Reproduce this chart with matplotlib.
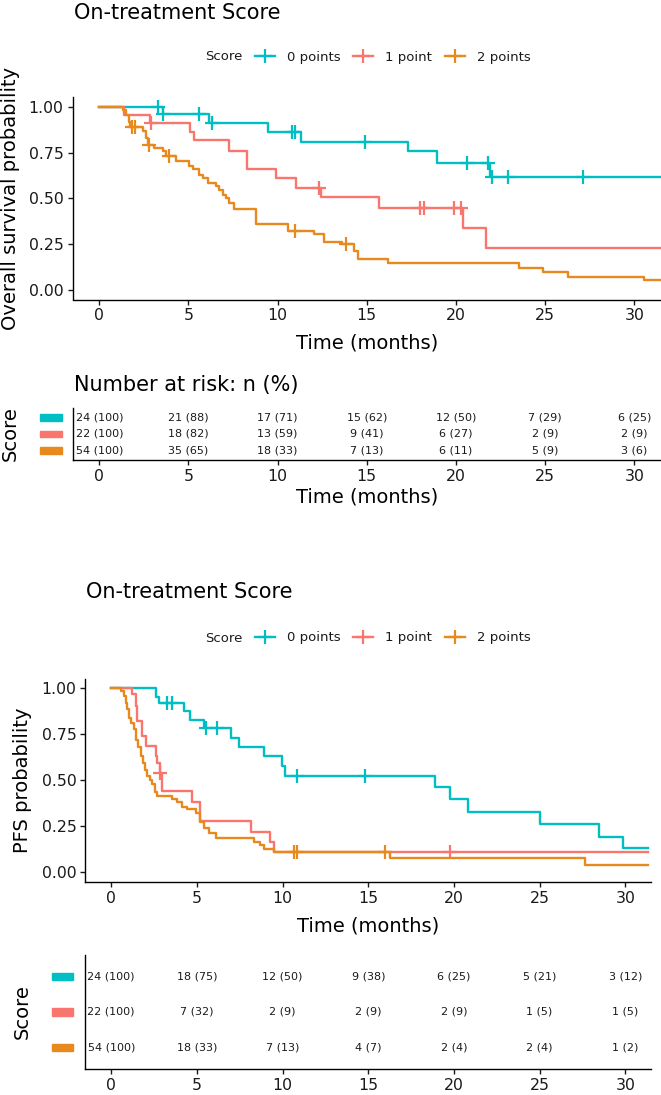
import numpy as np
import matplotlib.pyplot as plt
from matplotlib.lines import Line2D
from matplotlib.patches import Rectangle
from matplotlib.transforms import blended_transform_factory

W, H = 661, 1095

groups = ['0 points', '1 point', '2 points']
colors = ['#00BFC4', '#F8766D', '#E8891E']
risk_times = [0, 5, 10, 15, 20, 25, 30]

# ---- overall survival (top) ----
os_t = [
    [0, 3.56, 6.14, 9.45, 11.32, 17.31, 18.94, 21.93],
    [0, 1.4, 2.85, 5.1, 5.3, 7.3, 8.3, 9.92, 11.04, 12.45, 15.68, 20.4, 21.67],
    [0, 1.31, 1.5, 1.65, 1.74, 2.44, 2.62, 2.71, 3.09, 3.56, 3.74, 4.3, 5.05, 5.24,
     5.61, 5.8, 6.08, 6.55, 6.74, 6.93, 7.11, 7.3, 7.58, 8.8, 10.58, 12.07, 12.6,
     13.6, 14.3, 14.5, 16.19, 23.53, 24.86, 26.3, 30.56],
]
os_s = [
    [1.0, 0.958, 0.912, 0.861, 0.81, 0.756, 0.696, 0.619],
    [1.0, 0.955, 0.909, 0.864, 0.818, 0.76, 0.66, 0.611, 0.557, 0.508, 0.449, 0.34, 0.228],
    [1.0, 0.982, 0.955, 0.919, 0.892, 0.865, 0.829, 0.792, 0.774, 0.756, 0.734, 0.705,
     0.678, 0.66, 0.629, 0.611, 0.584, 0.566, 0.548, 0.521, 0.503, 0.476, 0.443, 0.362,
     0.325, 0.304, 0.264, 0.25, 0.214, 0.172, 0.147, 0.12, 0.102, 0.074, 0.056],
]
os_cens = [
    [3.3, 3.6, 5.6, 6.3, 10.8, 11.0, 14.88, 20.6, 21.8, 22.0, 22.9, 27.1],
    [2.9, 12.3, 18.0, 18.2, 19.9, 20.3],
    [1.85, 2.0, 2.8, 3.9, 10.95, 13.85],
]

# ---- PFS (bottom) ----
pfs_t = [
    [0, 2.59, 2.79, 4.24, 4.59, 5.41, 6.97, 7.45, 8.91, 9.98, 10.17, 18.91, 19.78,
     20.81, 25.03, 28.49, 29.85],
    [0, 1.23, 1.43, 1.52, 1.81, 2.01, 2.59, 2.69, 2.84, 2.98, 4.73, 5.21, 8.13, 9.25, 9.49],
    [0, 0.59, 0.75, 0.85, 0.94, 1.04, 1.17, 1.33, 1.43, 1.56, 1.72, 1.87, 1.95, 2.11,
     2.26, 2.4, 2.53, 2.69, 3.57, 3.86, 4.15, 4.44, 4.92, 5.18, 5.41, 5.7, 6.09, 8.32,
     8.71, 8.9, 9.49, 16.29, 27.65],
]
pfs_s = [
    [1.0, 0.954, 0.921, 0.875, 0.83, 0.785, 0.73, 0.681, 0.63, 0.579, 0.525, 0.463,
     0.398, 0.33, 0.262, 0.194, 0.131],
    [1.0, 0.966, 0.903, 0.821, 0.739, 0.688, 0.63, 0.594, 0.539, 0.443, 0.385, 0.281,
     0.218, 0.164, 0.109],
    [1.0, 0.985, 0.957, 0.921, 0.885, 0.839, 0.812, 0.776, 0.721, 0.681, 0.63, 0.594,
     0.557, 0.521, 0.5, 0.481, 0.439, 0.416, 0.398, 0.38, 0.358, 0.344, 0.321, 0.276,
     0.24, 0.212, 0.189, 0.167, 0.149, 0.127, 0.113, 0.08, 0.04],
]
pfs_cens = [
    [3.27, 3.56, 5.51, 6.19, 10.85, 14.83],
    [2.87, 19.78],
    [10.66, 10.86, 16.0],
]
pfs_end = 31.34

# ---- numbers at risk ----
os_n = [[24, 21, 17, 15, 12, 7, 6], [22, 18, 13, 9, 6, 2, 2], [54, 35, 18, 7, 6, 5, 3]]
os_pct = [[100, 88, 71, 62, 50, 29, 25], [100, 82, 59, 41, 27, 9, 9], [100, 65, 33, 13, 11, 9, 6]]
pfs_n = [[24, 18, 12, 9, 6, 5, 3], [22, 7, 2, 2, 2, 1, 1], [54, 18, 7, 4, 2, 2, 1]]
pfs_pct = [[100, 75, 50, 38, 25, 21, 12], [100, 32, 9, 9, 9, 5, 5], [100, 33, 13, 7, 4, 4, 2]]

fig = plt.figure(figsize=(W / 100, H / 100), dpi=100)
TXT = '#1a1a1a'
LW = 1.7


def px_axes(l, t, r, b):
    return fig.add_axes([l / W, 1 - b / H, (r - l) / W, (b - t) / H])


def style(ax):
    for s in ['top', 'right']:
        ax.spines[s].set_visible(False)
    for s in ['left', 'bottom']:
        ax.spines[s].set_linewidth(1.0)
    ax.tick_params(length=3.4, width=1.0, labelsize=11.3, pad=3, colors=TXT)
    ax.set_xlim(-1.5, 31.5)
    ax.set_xticks(risk_times)


def km(ax, ts, ss, cens, end):
    for t, s, c, col in zip(ts, ss, cens, colors):
        t = np.array(t)
        s = np.array(s)
        ax.step(np.r_[t, end], np.r_[s, s[-1]], where='post', color=col, lw=LW)
        c = np.array(c)
        cs = s[np.searchsorted(t, c, side='right') - 1]
        ax.plot(c, cs, ls='none', marker='+', ms=9.5, mew=1.6, color=col)
    ax.set_ylim(-0.05, 1.05)
    ax.set_yticks([0, 0.25, 0.5, 0.75, 1.0])
    ax.set_yticklabels(['0.00', '0.25', '0.50', '0.75', '1.00'])
    style(ax)


def table(ax, ns, pcts, rect_l, rect_w, rect_h):
    for i, (n, p, col) in enumerate(zip(ns, pcts, colors)):
        for x, a, b in zip(risk_times, n, p):
            ax.text(x, i + 1, f'{a} ({b})', ha='center', va='center', fontsize=8, color=TXT)
        tr = blended_transform_factory(ax.transAxes, ax.transData)
        ax.add_patch(Rectangle((rect_l, i + 1 - rect_h / 2), rect_w, rect_h, transform=tr,
                               color=col, clip_on=False))
    ax.set_ylim(3.6, 0.4)
    ax.set_yticks([])
    style(ax)


def legend(y):
    handles = [Line2D([], [], color=c, lw=LW, marker='+', ms=9.5, mew=1.6) for c in colors]
    fig.text(205 / W, 1 - y / H, 'Score', fontsize=9.5, va='center', ha='left', color=TXT)
    fig.legend(handles, groups, loc='center left', bbox_to_anchor=(255 / W, 1 - y / H),
               ncol=3, frameon=False, fontsize=9.5, handlelength=1.5, handletextpad=0.9,
               columnspacing=1.0, borderpad=0, borderaxespad=0, labelcolor=TXT)


# ---------- top block ----------
fig.text(74 / W, 1 - 13 / H, 'On-treatment Score', fontsize=15, va='center', ha='left')
legend(57)

ax1 = px_axes(72.5, 97.5, 661, 299.5)
km(ax1, os_t, os_s, os_cens, 32)
fig.text(367 / W, 1 - 343 / H, 'Time (months)', fontsize=14, ha='center', va='center')
fig.text(11 / W, 1 - 198.5 / H, 'Overall survival probability', fontsize=14,
         rotation=90, ha='center', va='center')

fig.text(74 / W, 1 - 385 / H, 'Number at risk: n (%)', fontsize=15, va='center', ha='left')
ax2 = px_axes(72.5, 408, 661, 460)
table(ax2, os_n, os_pct, -0.0552, 0.0369, 0.43)
fig.text(367 / W, 1 - 497 / H, 'Time (months)', fontsize=14, ha='center', va='center')
fig.text(10 / W, 1 - 434 / H, 'Score', fontsize=14, rotation=90, ha='center', va='center')

# ---------- bottom block ----------
fig.text(86 / W, 1 - 592 / H, 'On-treatment Score', fontsize=15, va='center', ha='left')
legend(638)

ax3 = px_axes(85.5, 679, 651, 881.7)
km(ax3, pfs_t, pfs_s, pfs_cens, pfs_end)
fig.text(368 / W, 1 - 926 / H, 'Time (months)', fontsize=14, ha='center', va='center')
fig.text(23 / W, 1 - 780 / H, 'PFS probability', fontsize=14, rotation=90,
         ha='center', va='center')

ax4 = px_axes(85.5, 955, 651, 1069)
table(ax4, pfs_n, pfs_pct, -0.0598, 0.0371, 0.197)
fig.text(22 / W, 1 - 1012 / H, 'Score', fontsize=14, rotation=90, ha='center', va='center')

fig.savefig('out.png', dpi=100)
